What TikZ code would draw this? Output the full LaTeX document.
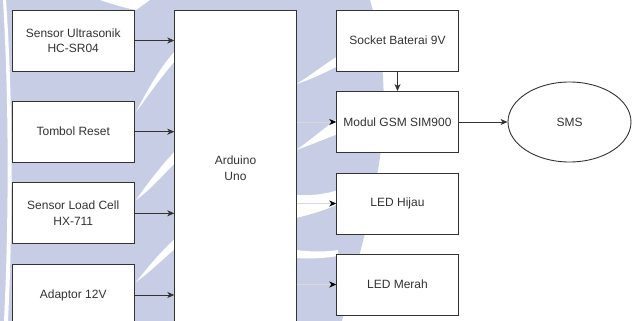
\documentclass[tikz,border=0pt]{standalone}
\usepackage{fontspec}
\setmainfont{Liberation Sans}
\usetikzlibrary{arrows.meta,shapes.geometric}
\definecolor{wm}{HTML}{C8CDE6}
\definecolor{ink}{HTML}{333333}
\definecolor{fade}{HTML}{D8D8D8}
\tikzset{
  blk/.style={draw=ink, line width=0.9pt, fill=white, text=ink, align=center,
    minimum width=121.5pt, minimum height=61pt, inner sep=0pt,
    font=\fontsize{12}{15.5}\selectfont},
  arr/.style={draw=ink, line width=0.8pt, -{Stealth[length=7pt,width=6pt,inset=2pt]}},
  farr/.style={draw=fade, line width=0.8pt, -{Stealth[length=7pt,width=6pt,inset=2pt,color=black]}},
  swoosh/.style={fill=white}
}
\begin{document}
\begin{tikzpicture}[x=1pt,y=-1pt]
\useasboundingbox (0,0) rectangle (632,321);
\clip (0,0) rectangle (632,321);
% watermark (approximation)
\fill[wm] (0,0) -- (370,0) .. controls (388,60) and (386,130) .. (377,175)
  .. controls (368,230) and (352,280) .. (342,321) -- (0,321) -- cycle;
\fill[swoosh] (3,0) .. controls (9,100) and (9,220) .. (4,321) -- (8,321) .. controls (13,220) and (13,100) .. (6,0) -- cycle;
\fill[swoosh] (136,112) .. controls (150,85) and (162,65) .. (176,50) -- (176,60) .. controls (160,78) and (148,96) .. (136,112) -- cycle;
\fill[swoosh] (136,200) .. controls (150,180) and (162,165) .. (176,150) -- (176,162) .. controls (162,176) and (150,190) .. (136,200) -- cycle;
\fill[swoosh] (136,282) .. controls (150,265) and (162,250) .. (176,238) -- (176,248) .. controls (162,260) and (150,272) .. (136,282) -- cycle;
\fill[swoosh] (100,0) .. controls (115,5) and (125,8) .. (136,10) -- (150,0) -- cycle;
\fill[swoosh] (296,84) .. controls (310,76) and (322,66) .. (338,56) -- (338,66) .. controls (322,74) and (310,80) .. (296,84) -- cycle;
\fill[swoosh] (296,150) .. controls (308,142) and (322,130) .. (338,118) -- (338,134) .. controls (322,140) and (308,146) .. (296,150) -- cycle;
\fill[swoosh] (296,195) .. controls (312,196) and (326,194) .. (338,190) -- (338,204) .. controls (326,210) and (312,214) .. (296,218) -- cycle;
\fill[swoosh] (296,250) .. controls (312,252) and (326,252) .. (338,250) -- (338,256) .. controls (326,258) and (312,259) .. (296,258) -- cycle;
% blocks
\node[blk] (us)  at (73.25,40.5)  {Sensor Ultrasonik\\HC-SR04};
\node[blk] (tr)  at (73.25,131.7) {Tombol Reset};
\node[blk] (lc)  at (73.25,213.3) {Sensor Load Cell\\HX-711};
\node[blk] (ad)  at (73.25,295)   {Adaptor 12V};
\node[blk, minimum height=316pt] (ard) at (235.5,168) {Arduino\\Uno};
\node[blk] (sb)  at (397.5,40.5)  {Socket Baterai 9V};
\node[blk] (gsm) at (397.5,122)   {Modul GSM SIM900};
\node[blk] (lh)  at (397.5,203.5) {LED Hijau};
\node[blk] (lm)  at (397.5,284.5) {LED Merah};
\node[draw=ink, line width=0.9pt, fill=white, ellipse, minimum width=123pt, minimum height=80pt,
  inner sep=0pt, text=ink, font=\fontsize{12}{15.5}\selectfont] (sms) at (569.5,122) {SMS};
% connectors
\draw[arr] (us.east) -- (us.east -| ard.west);
\draw[arr] (tr.east) -- (tr.east -| ard.west);
\draw[arr] (lc.east) -- (lc.east -| ard.west);
\draw[arr] (ad.east) -- (ad.east -| ard.west);
\draw[farr] (gsm.west -| ard.east) -- (gsm.west);
\draw[farr] (lh.west -| ard.east) -- (lh.west);
\draw[farr] (lm.west -| ard.east) -- (lm.west);
\draw[arr] (sb.south) -- (gsm.north);
\draw[arr] (gsm.east) -- (sms.west);
\end{tikzpicture}
\end{document}
